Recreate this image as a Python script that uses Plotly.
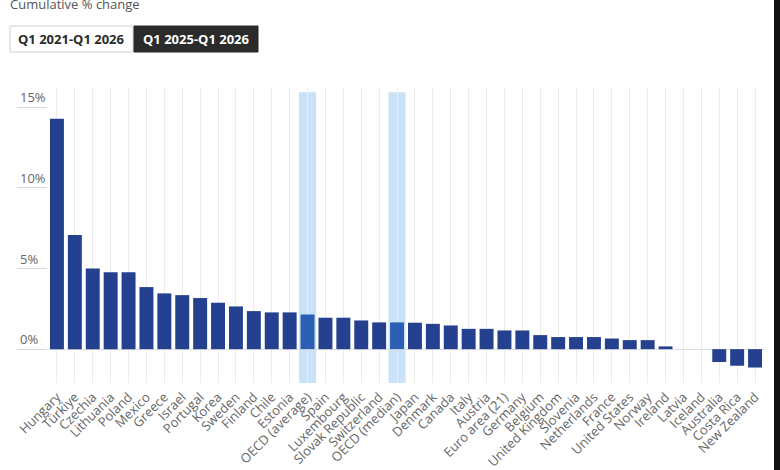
import plotly.graph_objects as go

# cumulative % change, Q1 2025-Q1 2026
countries = ["Hungary", "Türkiye", "Czechia", "Lithuania", "Poland", "Mexico", "Greece",
             "Israel", "Portugal", "Korea", "Sweden", "Finland", "Chile", "Estonia",
             "OECD (average)", "Spain", "Luxembourg", "Slovak Republic", "Switzerland",
             "OECD (median)", "Japan", "Denmark", "Canada", "Italy", "Austria",
             "Euro area (21)", "Germany", "Belgium", "United Kingdom", "Slovenia",
             "Netherlands", "France", "United States", "Norway", "Ireland", "Latvia",
             "Iceland", "Australia", "Costa Rica", "New Zealand"]
change = [14.3, 7.08, 5.0, 4.77, 4.77, 3.85, 3.46,
          3.35, 3.17, 2.88, 2.65, 2.36, 2.28, 2.28,
          2.15, 1.95, 1.95, 1.78, 1.66,
          1.66, 1.64, 1.57, 1.47, 1.26, 1.26,
          1.16, 1.16, 0.87, 0.75, 0.75,
          0.75, 0.66, 0.56, 0.56, 0.17, None,
          None, -0.8, -1.03, -1.14]
highlight = ["OECD (average)", "OECD (median)"]
y_ticks = [0, 5, 10, 15]

W, H = 780, 470
L, R, T, B = 48, 16, 88, 87
PW, PH = W - L - R, H - T - B


def px_x(p):
    return (p - L) / PW


def px_y(p):
    return (H - B - p) / PH


BAR = "#24408e"
BAR_HI = "#2b5fb4"
BAND = "#c9e2f8"
GREY = "#666666"

colors = [BAR_HI if c in highlight else BAR for c in countries]

fig = go.Figure(go.Bar(x=countries, y=change, marker=dict(color=colors, line=dict(width=0)),
                       hoverinfo="x+y"))

shapes = []
for c in highlight:
    i = countries.index(c)
    shapes.append(dict(type="rect", xref="x", yref="paper", x0=i - 0.48, x1=i + 0.48,
                       y0=0, y1=0.986, fillcolor=BAND, line=dict(width=0), layer="below"))

# buttons at top left
shapes.append(dict(type="rect", xref="paper", yref="paper", x0=px_x(10), x1=px_x(133),
                   y0=px_y(52), y1=px_y(26), fillcolor="white",
                   line=dict(color="#d0d0d0", width=1)))
shapes.append(dict(type="rect", xref="paper", yref="paper", x0=px_x(134), x1=px_x(258),
                   y0=px_y(52), y1=px_y(26), fillcolor="#2b2b2b",
                   line=dict(color="#2b2b2b", width=1)))
# dark strip at right edge of the screenshot
shapes.append(dict(type="rect", xref="paper", yref="paper", x0=px_x(774), x1=px_x(781),
                   y0=px_y(471), y1=px_y(-1), fillcolor="#111111", line=dict(width=0)))

annotations = [
    dict(text="Cumulative % change", xref="paper", yref="paper", x=px_x(8), y=px_y(4),
         xanchor="left", yanchor="middle", showarrow=False,
         font=dict(size=13, color="#555555")),
    dict(text="<b>Q1 2021-Q1 2026</b>", xref="paper", yref="paper", x=px_x(71.5), y=px_y(39),
         xanchor="center", yanchor="middle", showarrow=False,
         font=dict(size=13, color="#2b2b2b")),
    dict(text="<b>Q1 2025-Q1 2026</b>", xref="paper", yref="paper", x=px_x(196), y=px_y(39),
         xanchor="center", yanchor="middle", showarrow=False,
         font=dict(size=13, color="white")),
]
for v in y_ticks:
    annotations.append(dict(text="%d%%" % v, xref="paper", yref="y", x=px_x(18), y=v,
                            xanchor="left", yanchor="bottom", showarrow=False,
                            font=dict(size=13, color=GREY), yshift=-1))

fig.update_layout(
    width=W, height=H,
    margin=dict(l=L, r=R, t=T, b=B),
    paper_bgcolor="white", plot_bgcolor="white",
    font=dict(family="Open Sans", color=GREY),
    bargap=0.22,
    showlegend=False,
    shapes=shapes,
    annotations=annotations,
    xaxis=dict(showgrid=True, gridcolor="#ececec", gridwidth=1, tickangle=-45,
               tickfont=dict(size=13, color=GREY), showline=False, ticks="",
               ticklabelstandoff=3, automargin=False),
    yaxis=dict(range=[-2.1, 16.2], tickvals=y_ticks, showticklabels=False,
               showgrid=False, zeroline=True, zerolinecolor="#dddddd", zerolinewidth=1,
               ticks="outside", ticklen=30, tickcolor="#d8d8d8", tickwidth=1,
               automargin=False),
)

# the page's default body margin would push the figure off the window
fig.write_html("out.html", config={"displayModeBar": False},
               post_script="document.body.style.margin='0';")
